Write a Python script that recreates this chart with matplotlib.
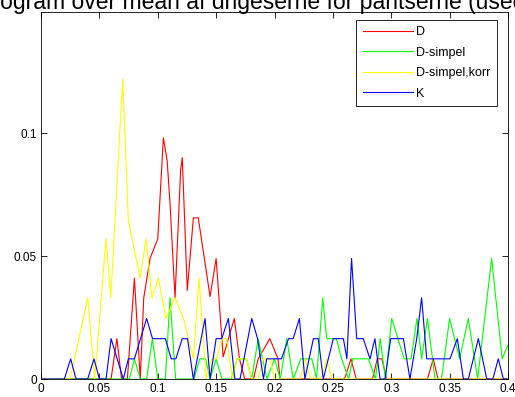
import numpy as np
import matplotlib
matplotlib.use("Agg")
import matplotlib.pyplot as plt

plt.rcParams['font.family'] = ['Liberation Sans', 'DejaVu Sans']

title = "Periodogram over mean af drigeserne for pantserne (used)"
labels = ['D', 'D-simpel', 'D-simpel,korr', 'K']
colors = ['#ff0000', '#00ff00', '#ffff00', '#0000ff']

# D
d_freq = [0, 0.060, 0.065, 0.069, 0.074, 0.080, 0.085, 0.088, 0.0934, 0.100, 0.1048,
          0.108, 0.1105, 0.1148, 0.1196, 0.121, 0.1253, 0.1305, 0.1347, 0.1448, 0.150,
          0.156, 0.1605, 0.1656, 0.170, 0.1745, 0.182, 0.186, 0.196, 0.203, 0.2047,
          0.260, 0.2655, 0.270, 0.284, 0.288, 0.292, 0.296, 0.331, 0.336, 0.340, 0.4]
d_val = [0, 0, 0.0164, 0, 0, 0.041, 0, 0.033, 0.049, 0.057, 0.098,
         0.089, 0.0715, 0.033, 0.085, 0.090, 0.036, 0.0655, 0.0655, 0.0335, 0.049,
         0.009, 0.0164, 0.0246, 0.0082, 0, 0, 0.0082, 0.0164, 0.0082, 0,
         0, 0.0082, 0, 0, 0.0082, 0.0082, 0, 0, 0.0082, 0, 0]

# D-simpel
ds_freq = [0, 0.0757, 0.080, 0.085, 0.0905, 0.0954, 0.100, 0.1065, 0.1105, 0.1153,
           0.131, 0.136, 0.141, 0.1448, 0.150, 0.155, 0.163, 0.168, 0.176, 0.1805,
           0.186, 0.1935, 0.200, 0.205, 0.2105, 0.216, 0.2225, 0.232, 0.236, 0.2413,
           0.2447, 0.253, 0.2575, 0.2635, 0.267, 0.2805, 0.2865, 0.2905, 0.295, 0.3004,
           0.311, 0.317, 0.322, 0.326, 0.331, 0.3375, 0.343, 0.350, 0.3585, 0.366,
           0.374, 0.386, 0.395, 0.4]
ds_val = [0, 0, 0.0082, 0, 0, 0.0164, 0, 0, 0.033, 0,
          0, 0.0082, 0.0082, 0, 0.0082, 0, 0, 0.0082, 0.0082, 0,
          0.0164, 0, 0.0082, 0, 0.0164, 0, 0.0082, 0.0082, 0, 0.033,
          0.0164, 0.0164, 0.0082, 0, 0.0082, 0.0082, 0, 0.0164, 0, 0.0246,
          0.0082, 0.0082, 0.0246, 0.0082, 0.0246, 0, 0, 0.0246, 0.0082, 0.0246,
          0, 0.049, 0.0082, 0.0138]

# D-simpel,korr
dk_freq = [0, 0.025, 0.040, 0.046, 0.0557, 0.0597, 0.070, 0.0748, 0.0848, 0.090,
           0.095, 0.1005, 0.107, 0.1148, 0.122, 0.1305, 0.1353, 0.1415, 0.146, 0.1505,
           0.155, 0.159, 0.164, 0.168, 0.176, 0.1805, 0.186, 0.190, 0.196, 0.200,
           0.222, 0.226, 0.231, 0.240, 0.2447, 0.249, 0.4]
dk_val = [0, 0, 0.033, 0, 0.057, 0.033, 0.122, 0.0646, 0.041, 0.057,
          0.033, 0.041, 0.0246, 0.033, 0.0246, 0.0082, 0.041, 0, 0.0082, 0.0082,
          0.0164, 0.0164, 0, 0.0082, 0.0082, 0, 0, 0.0082, 0.0082, 0,
          0, 0.0082, 0, 0, 0.0082, 0, 0]

# K
k_freq = [0, 0.020, 0.0254, 0.030, 0.040, 0.0454, 0.050, 0.0557, 0.060, 0.0705,
          0.0748, 0.080, 0.0905, 0.0955, 0.1065, 0.1115, 0.1155, 0.121, 0.1255, 0.1305,
          0.1405, 0.1448, 0.150, 0.1548, 0.1605, 0.166, 0.1705, 0.1805, 0.1855, 0.1905,
          0.1933, 0.206, 0.212, 0.216, 0.2213, 0.226, 0.2333, 0.2375, 0.2418, 0.2504,
          0.259, 0.262, 0.266, 0.2704, 0.276, 0.2818, 0.286, 0.2904, 0.2947, 0.2995,
          0.3104, 0.316, 0.3218, 0.326, 0.3304, 0.3503, 0.3566, 0.3618, 0.366, 0.3746,
          0.3818, 0.387, 0.3917, 0.396, 0.4]
k_val = [0, 0, 0.0082, 0, 0, 0.0082, 0, 0, 0.0164, 0,
         0.0082, 0.0082, 0.0246, 0.0164, 0.0164, 0.0082, 0.0082, 0.0164, 0.0164, 0,
         0.0246, 0, 0.0164, 0.0164, 0.0246, 0, 0, 0.0246, 0.0164, 0,
         0.0082, 0.0082, 0.0164, 0.0164, 0.0246, 0, 0.0164, 0.0164, 0, 0.0164,
         0.0164, 0.0082, 0.049, 0.0164, 0.0164, 0.0082, 0.0164, 0, 0, 0.0164,
         0.0164, 0, 0.0164, 0.033, 0.0082, 0.0082, 0.0164, 0, 0, 0.0164,
         0, 0, 0.0082, 0, 0]

fig = plt.figure(figsize=(5.15, 3.97), dpi=100)
ax = fig.add_axes([41/515, 18/397, 467/515, 367/397])

series = [(d_freq, d_val), (ds_freq, ds_val), (dk_freq, dk_val), (k_freq, k_val)]
for (f, v), c, lab in zip(series, colors, labels):
    ax.plot(f, v, color=c, linewidth=0.8, label=lab)

ax.set_xlim(0, 0.4)
ax.set_ylim(0, 0.1492)
ax.set_xticks([0, 0.05, 0.1, 0.15, 0.2, 0.25, 0.3, 0.35, 0.4])
ax.set_xticklabels(['0', '0.05', '0.1', '0.15', '0.2', '0.25', '0.3', '0.35', '0.4'])
ax.set_yticks([0, 0.05, 0.1])
ax.set_yticklabels(['0', '0.05', '0.1'])
ax.tick_params(direction='in', length=4, width=0.6, top=True, right=True,
               labelsize=8.5, pad=3)
for s in ax.spines.values():
    s.set_linewidth(0.6)

leg = ax.legend(loc='upper right', bbox_to_anchor=(497/515, 377/397),
                bbox_transform=fig.transFigure, fontsize=9, handlelength=4.0,
                handletextpad=0.3, labelspacing=0.68, borderpad=0.5,
                borderaxespad=0, fancybox=False, framealpha=1, edgecolor='black')
leg.get_frame().set_linewidth(0.6)

# title sits partly above the top edge, as in the cropped original
fig.text(-66/515, 1 - 9/397, title, ha='left', va='baseline', fontsize=16.5)

fig.savefig('out.png', dpi=100)
